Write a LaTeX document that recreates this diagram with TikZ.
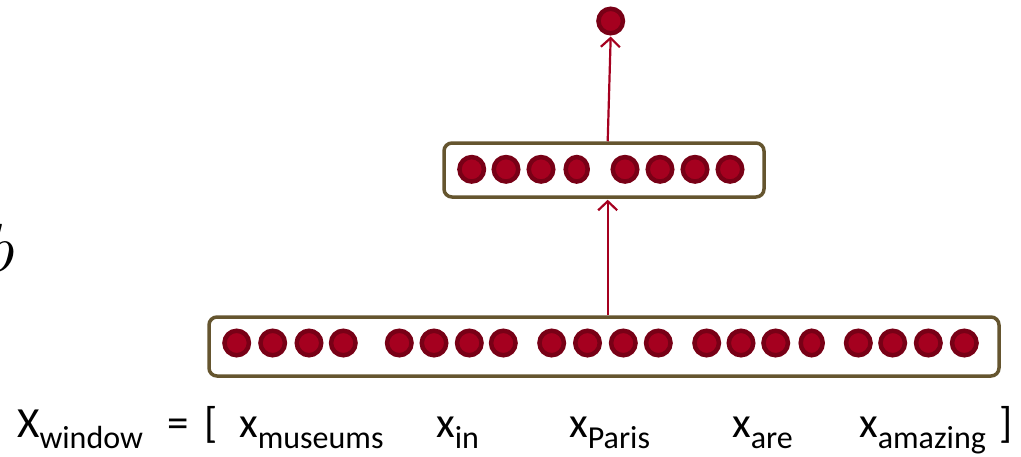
\RequirePackage{fix-cm}
\documentclass[tikz,border=0pt]{standalone}
\usepackage{fontspec}
\setmainfont{Carlito}
\usetikzlibrary{arrows.meta,shapes.geometric}
\definecolor{boxcol}{HTML}{65552F}
\definecolor{dotfill}{HTML}{A5001F}
\definecolor{dotdark}{HTML}{780016}
\newcommand{\lab}[2]{\fontsize{43}{43}\selectfont #1{\fontsize{32}{32}\selectfont\raisebox{-11pt}{#2}}}
\begin{document}
\begin{tikzpicture}[x=1pt,y=-1pt,
  box/.style={draw=boxcol,line width=3.5pt,rounded corners=8pt,inner sep=0pt,fill=white},
  dot/.style={circle,fill=dotfill,draw=dotdark,line width=4.5pt,minimum size=24.5pt,inner sep=0pt},
  sdot/.style={ellipse,fill=dotfill,draw=dotdark,line width=4.5pt,minimum width=22pt,minimum height=24.5pt,inner sep=0pt},
  arr/.style={draw=dotfill,line width=2.2pt,-{Straight Barb[length=9pt,width=19pt,line width=2.2pt]}},
  lbl/.style={anchor=base west,inner sep=0pt,font=\fontsize{43}{43}\selectfont}]
\useasboundingbox (0,0) rectangle (1021,456);
% boxes
\node[box,minimum width=790pt,minimum height=59pt] (inbox) at (604,346.5) {};
\node[box,minimum width=320pt,minimum height=54pt] (hid) at (604,170) {};
% input dots
\foreach \x [count=\i] in {236.7,272.7,309,343.3,399.3,434,469.3,503.3,551.7,587.5,623.3,658.3,706.7,741,775.7,858.3,892.7,928.3,964.3}
  \node[dot] (in\i) at (\x,343) {};
\node[sdot] (in20) at (811.7,343) {};
% hidden dots
\foreach \x [count=\i] in {471.7,506,541,625,660,695,730}
  \node[dot] (h\i) at (\x,169.3) {};
\node[sdot] (h8) at (576.7,169.3) {};
% output
\node[dot] (out) at (610.7,21) {};
% arrows
\draw[arr] ([xshift=3.7pt]inbox.north) -- ([xshift=3.7pt,yshift=-1pt]hid.south);
\draw[arr] ([xshift=3.7pt]hid.north) -- ([yshift=-1pt]out.south);
% b fragment
\node[anchor=base west,inner sep=0pt,font=\fontsize{68}{68}\selectfont] (b) at (-14,271) {$b$};
% labels
\node[lbl] (xw) at (17,437) {\lab{X}{window}};
\node[lbl] (eq) at (167,437) {=};
\node[lbl] (lb) at (204,437) {[};
\node[lbl] (x1) at (239,437) {\lab{x}{museums}};
\node[lbl] (x2) at (436,437) {\lab{x}{in}};
\node[lbl] (x3) at (569,437) {\lab{x}{Paris}};
\node[lbl] (x4) at (732,437) {\lab{x}{are}};
\node[lbl] (x5) at (859,437) {\lab{x}{amazing}};
\node[lbl] (rb) at (999,437) {]};
\end{tikzpicture}
\end{document}
